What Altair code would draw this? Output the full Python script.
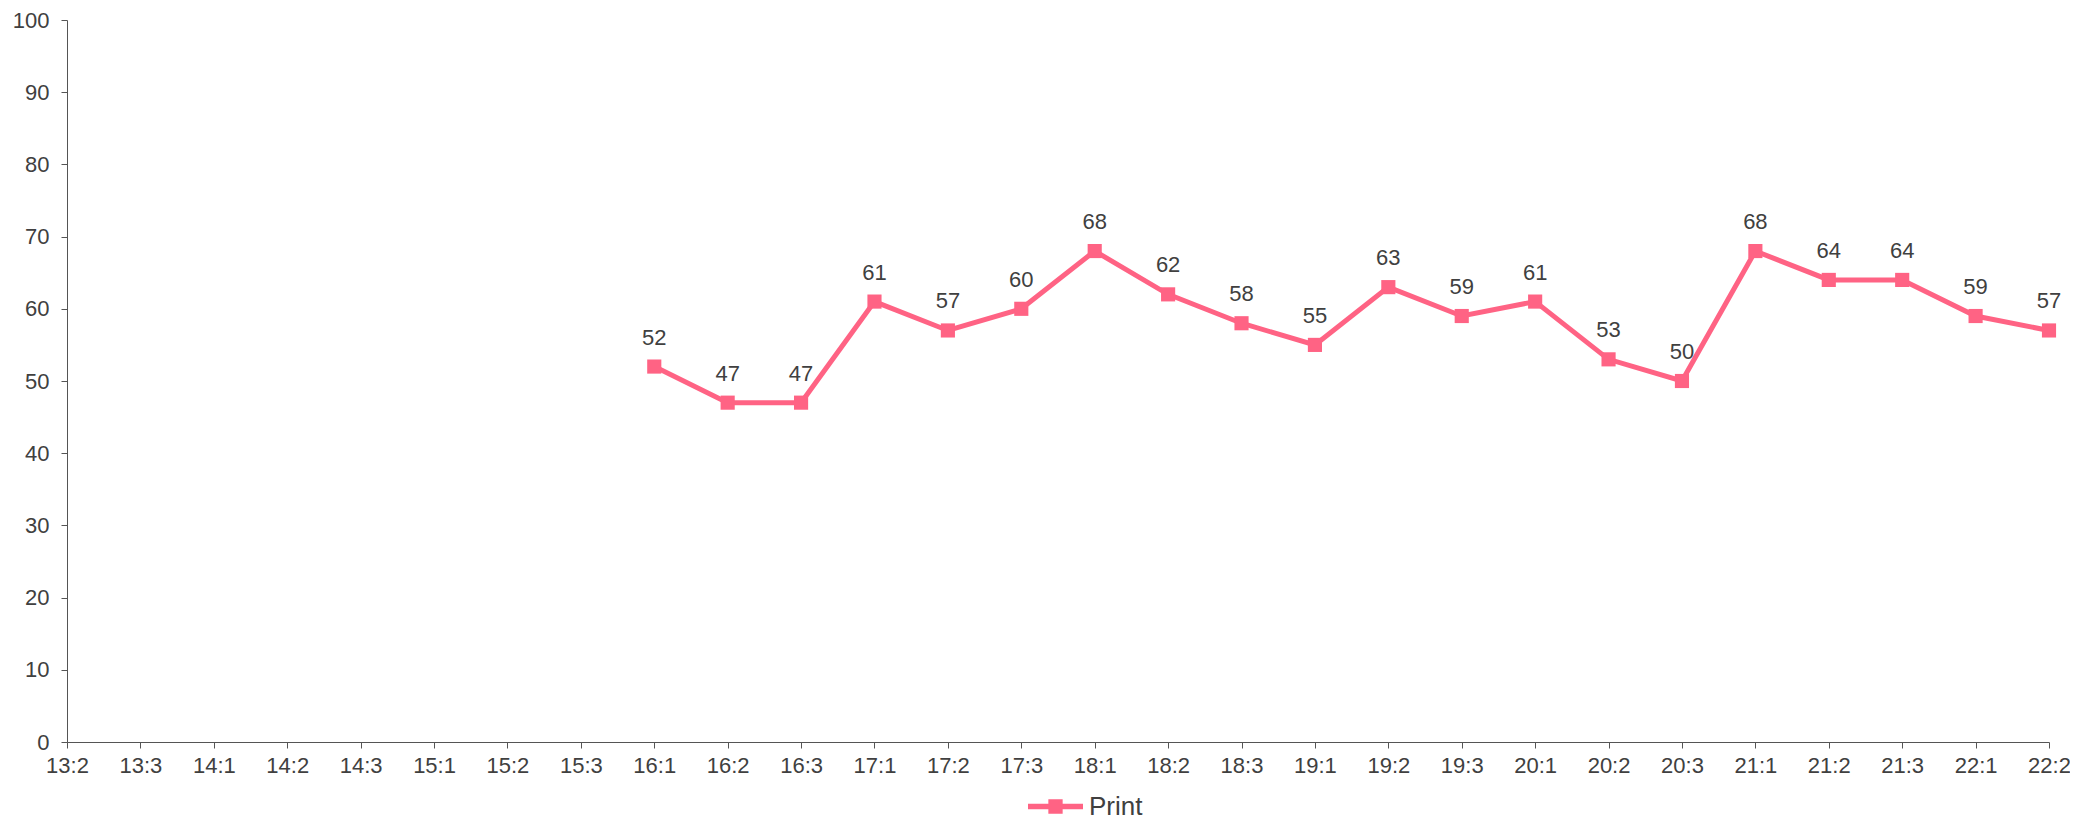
import altair as alt
import pandas as pd

categories = ["13:2", "13:3", "14:1", "14:2", "14:3", "15:1", "15:2", "15:3",
              "16:1", "16:2", "16:3", "17:1", "17:2", "17:3", "18:1", "18:2",
              "18:3", "19:1", "19:2", "19:3", "20:1", "20:2", "20:3", "21:1",
              "21:2", "21:3", "22:1", "22:2"]
# 13:2 .. 15:3 have no value
values = [None, None, None, None, None, None, None, None,
          52, 47, 47, 61, 57, 60, 68, 62,
          58, 55, 63, 59, 61, 53, 50, 68,
          64, 64, 59, 57]
series_name = "Print"
color = "#FF6384"

df = pd.DataFrame({"cat": categories, "value": values, "series": series_name})

x = alt.X("cat:N", sort=categories,
          scale=alt.Scale(type="point", padding=0, domain=categories),
          axis=alt.Axis(title=None, labelAngle=0, labelFontSize=22, labelPadding=7,
                        tickSize=6, labelColor="#404040", domainColor="#555555",
                        tickColor="#555555", grid=False))
y = alt.Y("value:Q",
          scale=alt.Scale(domain=[0, 100], nice=False, zero=True),
          axis=alt.Axis(title=None, values=list(range(0, 101, 10)), labelFontSize=22,
                        labelPadding=12, tickSize=6, labelColor="#404040",
                        domainColor="#555555", tickColor="#555555", grid=False))

base = alt.Chart(df).transform_filter("isValid(datum.value)")

line = base.mark_line(color=color, strokeWidth=5).encode(x=x, y=y)

legend_path = ("M-1,-0.1 L1,-0.1 L1,0.1 L-1,0.1 Z "
               "M-0.26,-0.26 L0.26,-0.26 L0.26,0.26 L-0.26,0.26 Z")

points = base.mark_point(shape="square", filled=True, size=200, opacity=1).encode(
    x=x, y=y,
    color=alt.Color("series:N",
                    scale=alt.Scale(domain=[series_name], range=[color]),
                    legend=alt.Legend(title=None, orient="none", legendX=961, legendY=759,
                                      symbolType=legend_path, symbolSize=3025,
                                      symbolStrokeWidth=0, symbolOpacity=1,
                                      labelFontSize=26, labelOffset=6,
                                      labelColor="#404040", labelFont="Liberation Sans"))
)

labels = base.mark_text(baseline="alphabetic", dy=-22, fontSize=22,
                        color="#404040", font="Liberation Sans").encode(
    x=x, y=y, text=alt.Text("value:Q")
)

chart = alt.layer(line, points, labels).properties(
    width=1982, height=722,
    autosize=alt.AutoSizeParams(type="none"),
    padding={"left": 59, "top": 12, "right": 21, "bottom": 79},
).configure(font="Liberation Sans").configure_view(stroke=None).configure_axis(
    labelFont="Liberation Sans")

chart.save("out.html", embed_options={"renderer": "svg", "actions": False})
